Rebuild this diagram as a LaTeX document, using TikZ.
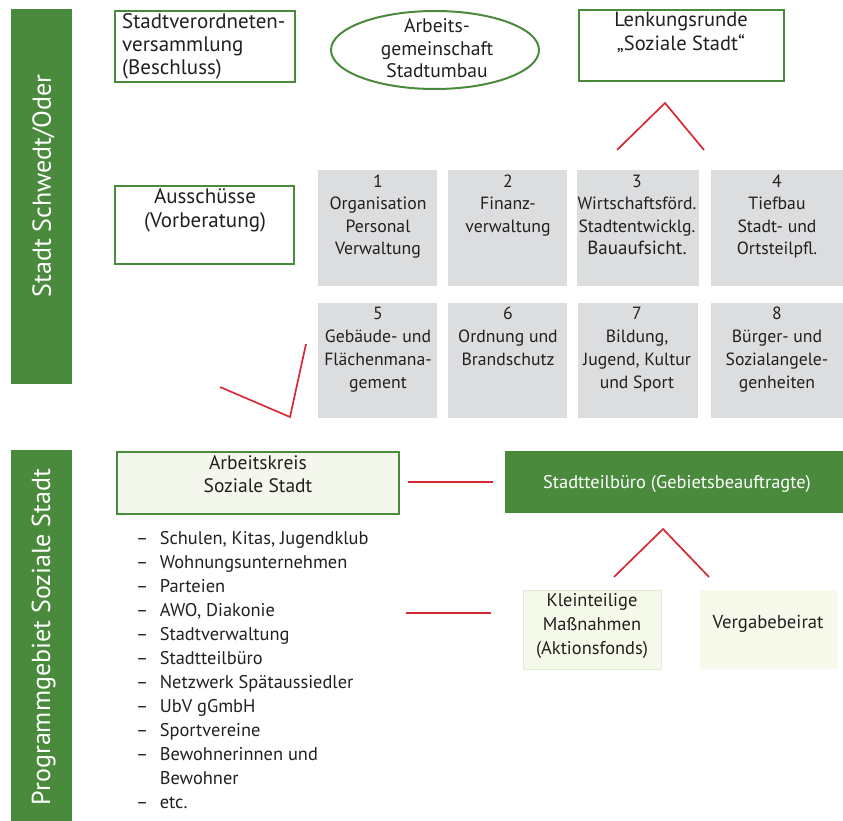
\documentclass[tikz,border=0pt]{standalone}
\usepackage{fontspec}
\setmainfont{PT Sans}
\usetikzlibrary{shapes.geometric}
\definecolor{sgreen}{HTML}{4A8A3C}
\definecolor{sred}{HTML}{D42A33}
\definecolor{sgray}{HTML}{DCDDDF}
\definecolor{paleA}{HTML}{F4F8EC}
\definecolor{paleB}{HTML}{F5F9EA}
\definecolor{paleC}{HTML}{F7F9EA}
\definecolor{paleEdge}{HTML}{E2ECD2}
\definecolor{ink}{HTML}{231F20}
\begin{document}
\begin{tikzpicture}[x=1pt,y=-1pt,
  every node/.style={inner sep=0pt, text=ink},
  big/.style={font=\fontsize{21}{24}\selectfont, align=center},
  mid/.style={font=\fontsize{19.5}{23}\selectfont, align=center},
  deptfont/.style={font=\fontsize{17.7}{22.5}\selectfont, align=center},
  small/.style={font=\fontsize{18.4}{24}\selectfont, align=center},
  greenbox/.style={draw=sgreen, line width=2.2pt, anchor=north west},
  bar/.style={fill=sgreen, anchor=north west, minimum width=61},
  bartext/.style={text=white, font=\fontsize{26}{30}\selectfont, rotate=90},
  dept/.style={fill=sgray, anchor=north west},
  redline/.style={draw=sred, line width=1.7pt}]
\useasboundingbox (0,0) rectangle (843,821);

% side bars
\node[bar, minimum height=375] (barTop) at (11,9) {};
\node[bartext] (barTopText) at (43.5,186) {Stadt Schwedt/Oder};
\node[bar, minimum height=371] (barBot) at (11,450) {};
\node[bartext] (barBotText) at (43.5,637) {Programmgebiet Soziale Stadt};

% council level
\node[greenbox, minimum width=180, minimum height=71] (svv) at (114,10) {};
\node[big, font=\fontsize{21}{23}\selectfont, align=left, anchor=north west] (svvText) at (122,13.5)
  {Stadtverordneten-\\versammlung\\(Beschluss)};
\node[ellipse, draw=sgreen, line width=2pt, minimum width=208, minimum height=78] (ags) at (435,50) {};
\node[mid, font=\fontsize{19.6}{22.5}\selectfont] (agsText) at (437,48.5) {Arbeits-\\gemeinschaft\\Stadtumbau};
\node[greenbox, minimum width=205, minimum height=71] (lenk) at (578,9) {};
\node[big, font=\fontsize{20.5}{24}\selectfont, anchor=north] (lenkText) at (681,11.8) {Lenkungsrunde\\„Soziale Stadt“};

\node[greenbox, minimum width=179, minimum height=78] (aus) at (114,185) {};
\node[big, anchor=north] (ausText) at (205,188.5) {Ausschüsse\\(Vorberatung)};

% departments
\node[dept, minimum width=119, minimum height=116] (d1) at (318,170) {};
\node[dept, minimum width=119, minimum height=116] (d2) at (448,170) {};
\node[dept, minimum width=122, minimum height=116] (d3) at (577,170) {};
\node[dept, minimum width=132, minimum height=116] (d4) at (711,170) {};
\node[dept, minimum width=119, minimum height=115] (d5) at (318,303) {};
\node[dept, minimum width=119, minimum height=115] (d6) at (448,303) {};
\node[dept, minimum width=120, minimum height=115] (d7) at (578,303) {};
\node[dept, minimum width=132, minimum height=115] (d8) at (711,303) {};

\node[deptfont, anchor=north] (t1) at (378,174.6) {1\\Organisation\\Personal\\Verwaltung};
\node[deptfont, anchor=north] (t2) at (508,174.6) {2\\Finanz-\\verwaltung};
\node[deptfont, anchor=north] (t3) at (637,174.6) {3\\Wirtschaftsförd.\\Stadtentwicklg.\\{\fontsize{19}{22.5}\selectfont Bauaufsicht.}};
\node[deptfont, anchor=north] (t4) at (777,174.6) {4\\Tiefbau\\Stadt- und\\Ortsteilpfl.};
\node[deptfont, font=\fontsize{17.7}{23}\selectfont, anchor=north] (t5) at (378,306.6) {5\\Gebäude- und\\Flächenmana-\\gement};
\node[deptfont, font=\fontsize{17.7}{23}\selectfont, anchor=north] (t6) at (508,306.6) {6\\Ordnung und\\Brandschutz};
\node[deptfont, font=\fontsize{17.7}{23}\selectfont, anchor=north] (t7) at (637,306.6) {7\\Bildung,\\Jugend, Kultur\\und Sport};
\node[deptfont, font=\fontsize{17.7}{23}\selectfont, anchor=north] (t8) at (777,306.6) {8\\Bürger- und\\Sozialangele-\\genheiten};

% programme area
\node[greenbox, fill=paleA, minimum width=282, minimum height=62] (ak) at (116,451) {};
\node[mid, anchor=north] (akText) at (258,455) {Arbeitskreis\\Soziale Stadt};
\node[fill=sgreen, anchor=north west, minimum width=338, minimum height=62] (stb) at (505,451) {};
\node[small, text=white, anchor=base] (stbText) at (677,488.6) {Stadtteilbüro (Gebietsbeauftragte)};
\node[fill=paleB, draw=paleEdge, line width=1.2pt, anchor=north west, minimum width=138, minimum height=79] (kl) at (523,590) {};
\node[small, anchor=north] (klText) at (592,593.4) {Kleinteilige\\Maßnahmen\\(Aktionsfonds)};
\node[fill=paleC, anchor=north west, minimum width=138, minimum height=79] (vb) at (700,590) {};
\node[small, font=\fontsize{18.7}{24}\selectfont, anchor=base] (vbText) at (768,628.6) {Vergabebeirat};

\node[anchor=north west, font=\fontsize{18.4}{24}\selectfont] (members) at (136,527) {%
  \begin{tabular}{@{}l@{\hspace{11.5pt}}l@{}}
  – & Schulen, Kitas, Jugendklub\\
  – & Wohnungsunternehmen\\
  – & Parteien\\
  – & AWO, Diakonie\\
  – & Stadtverwaltung\\
  – & Stadtteilbüro\\
  – & Netzwerk Spätaussiedler\\
  – & UbV gGmbH\\
  – & Sportvereine\\
  – & Bewohnerinnen und\\
    & Bewohner\\
  – & etc.
  \end{tabular}};

% red connector marks
\coordinate (c1a) at (617,150); \coordinate (c1b) at (665,103); \coordinate (c1c) at (704,150);
\draw[redline] (c1a) -- (c1b) -- (c1c);
\coordinate (c2a) at (220,387); \coordinate (c2b) at (290,417); \coordinate (c2c) at (306,344);
\draw[redline] (c2a) -- (c2b) -- (c2c);
\coordinate (c3a) at (408,482); \coordinate (c3b) at (493,482);
\draw[redline] (c3a) -- (c3b);
\coordinate (c4a) at (614,577); \coordinate (c4b) at (663,529); \coordinate (c4c) at (709,577);
\draw[redline] (c4a) -- (c4b) -- (c4c);
\coordinate (c5a) at (406,613); \coordinate (c5b) at (491,613);
\draw[redline] (c5a) -- (c5b);
\end{tikzpicture}
\end{document}
